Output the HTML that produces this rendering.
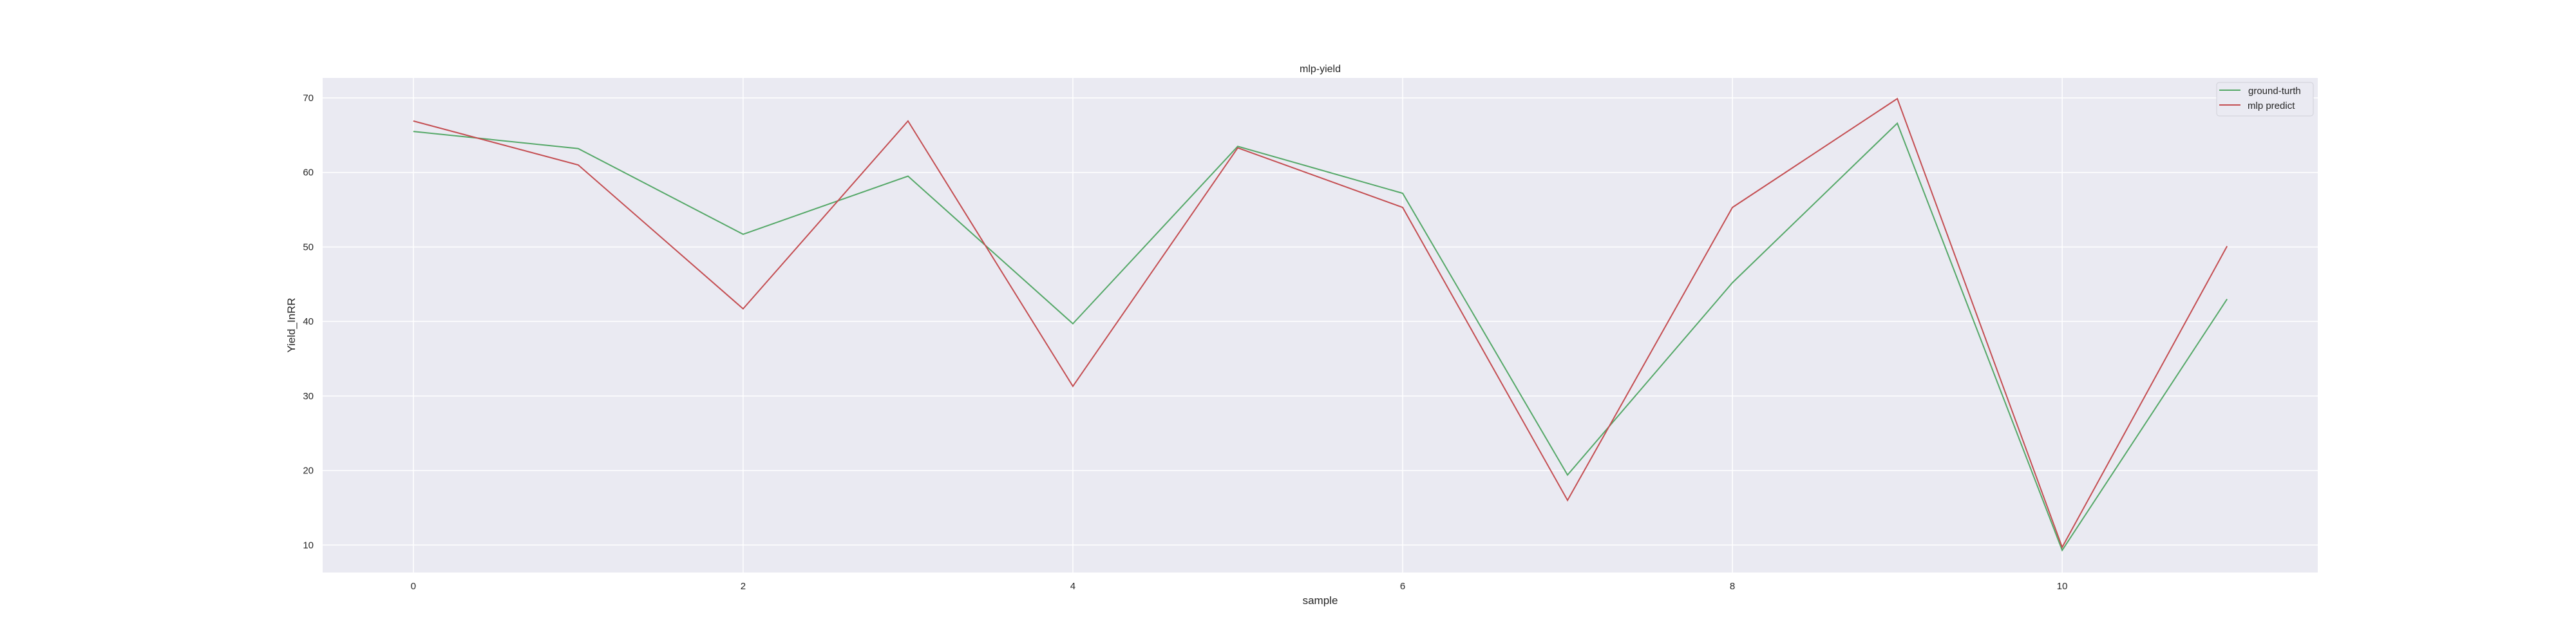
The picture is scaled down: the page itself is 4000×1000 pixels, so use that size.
<!DOCTYPE html>
<html><head><meta charset="utf-8"><style>body{margin:0;background:#fff}svg{display:block}text{font-family:"Liberation Sans","DejaVu Sans",sans-serif;fill:#262626}</style></head>
<body>
<svg id="chart" width="4000" height="1000" xmlns="http://www.w3.org/2000/svg">
<rect x="501" y="121" width="3098" height="768" fill="#eaeaf2"/>
<g id="grid"></g>
<g id="series"></g>
<text x="2050" y="112" font-size="16" text-anchor="middle">mlp-yield</text>
<text x="2050" y="938" font-size="17" text-anchor="middle">sample</text>
<text transform="translate(458,505) rotate(-90)" font-size="17" text-anchor="middle">Yield_InRR</text>
<g>
<rect x="3442" y="128" width="150" height="52" rx="4" fill="#eaeaf2" stroke="#d0d0d8" stroke-width="1"/>
<line x1="3446" y1="140" x2="3479" y2="140" stroke="#55a868" stroke-width="2"/>
<text x="3491" y="146" font-size="15">ground-turth</text>
<line x1="3446" y1="163" x2="3479" y2="163" stroke="#c44e52" stroke-width="2"/>
<text x="3490" y="169" font-size="15">mlp predict</text>
</g>
</svg>
<script>
const samples=[0,1,2,3,4,5,6,7,8,9,10,11];
const groundTruth=[65.5,63.2,51.7,59.5,39.7,63.5,57.2,19.4,45.2,66.6,9.3,43.0];
const mlpPredict=[66.9,61.0,41.7,66.9,31.3,63.3,55.3,16.0,55.3,69.9,9.7,50.1];
const xTicks=[0,2,4,6,8,10];
const yTicks=[10,20,30,40,50,60,70];
const NS='http://www.w3.org/2000/svg';
const L=501,R=3599,T=121,B=889;
const xMin=-0.55,xMax=11.55,yMin=6.31,yMax=72.68;
function xs(v){return L+(v-xMin)/(xMax-xMin)*(R-L);}
function ys(v){return B-(v-yMin)/(yMax-yMin)*(B-T);}
const grid=document.getElementById('grid'),svg=document.getElementById('chart'),ser=document.getElementById('series');
function mk(t,a,p){const e=document.createElementNS(NS,t);for(const k in a)e.setAttribute(k,a[k]);p.appendChild(e);return e;}
xTicks.forEach(v=>{
 const l=mk('line',{x1:xs(v),x2:xs(v),y1:T,y2:B,stroke:'#fff','stroke-width':1.5},grid);
 
 
 const t=mk('text',{x:xs(v),y:B+26,'font-size':15,'text-anchor':'middle'},svg);t.textContent=v;
 
 
});
yTicks.forEach(v=>{
 const l=mk('line',{x1:L,x2:R,y1:ys(v),y2:ys(v),stroke:'#fff','stroke-width':1.5},grid);
 
 
 const t=mk('text',{x:487,y:ys(v)+5,'font-size':15,'text-anchor':'end'},svg);t.textContent=v;
 
 
});
function line(d,c,n){
 const p=mk('polyline',{points:d.map((v,i)=>xs(samples[i])+','+ys(v)).join(' '),fill:'none',stroke:c,'stroke-width':2},ser);
 
 
}
line(groundTruth,'#55a868','ground-truth-line');
line(mlpPredict,'#c44e52','mlp-predict-line');
</script>
</body></html>
